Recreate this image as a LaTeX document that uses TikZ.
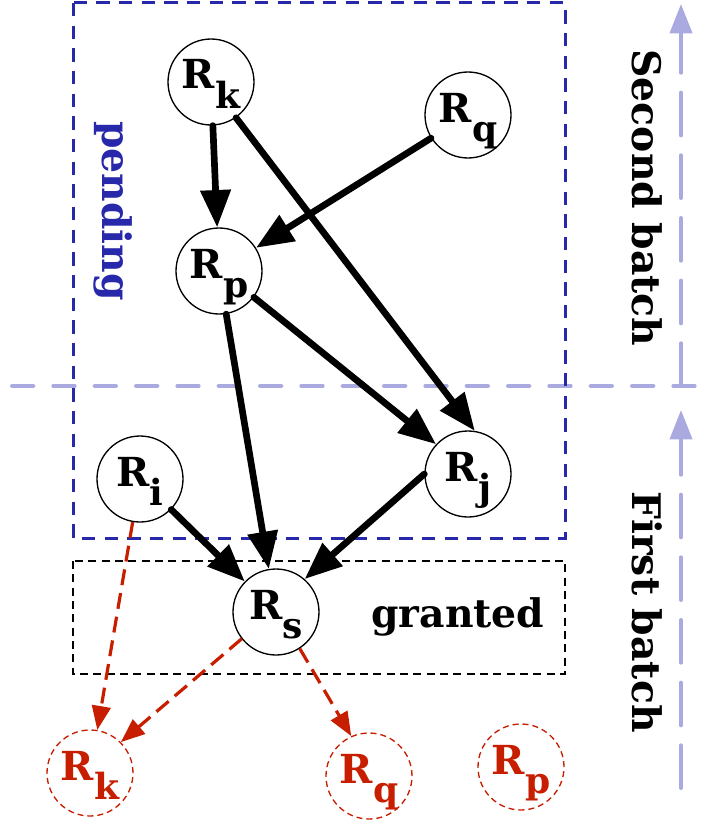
\documentclass[tikz,border=0pt]{standalone}
\usepackage{fontspec}
\setmainfont{DejaVu Serif}
\usetikzlibrary{arrows.meta}
\definecolor{dblue}{RGB}{40,40,170}
\definecolor{lblue}{RGB}{170,170,225}
\definecolor{dred}{RGB}{200,30,0}
\newcommand{\Rsub}[1]{\raisebox{-5.25pt}[0pt][0pt]{R}\raisebox{-20pt}[0pt][0pt]{\fontsize{27}{27}\selectfont #1}}
\tikzset{
  res/.style={circle, draw, fill=white, line width=1pt, minimum size=64.5pt, inner sep=0pt,
    font=\fontsize{30}{32}\selectfont\bfseries},
  ghost/.style={res, draw=dred, dash pattern=on 4.5pt off 3pt, text=dred},
  dep/.style={line width=5pt, line cap=round, -{Triangle[length=28pt,width=22pt]}},
  redarr/.style={dred, line width=2.4pt, dash pattern=on 12pt off 6pt, -{Triangle[length=18pt,width=14pt]}},
  lline/.style={lblue, line width=3pt, line cap=round},
  lbl/.style={font=\fontsize{29.5}{32}\selectfont\bfseries, inner sep=0pt},
}
\begin{document}
\begin{tikzpicture}[x=0.75pt,y=-0.75pt]
\useasboundingbox (0,0) rectangle (712,824);
% light batch separators
\draw[lline, dash pattern=on 16pt off 15pt] (12,386) -- (712,386);
\coordinate (a1s) at (681,386);
\coordinate (a1e) at (681,4);
\coordinate (a2s) at (681,788);
\coordinate (a2e) at (681,410);
\draw[lline, dash pattern=on 32pt off 15pt, -{Triangle[length=22pt,width=16.5pt]}] (a1s) -- (a1e);
\draw[lline, dash pattern=on 32pt off 15pt, -{Triangle[length=22pt,width=16.5pt]}] (a2s) -- (a2e);
% boxes
\draw[dblue, line width=2.25pt, dash pattern=on 10pt off 7pt] (73,3) rectangle (565,538);
\draw[line width=1pt, dash pattern=on 6pt off 4pt] (73,561) rectangle (565,674);
% labels
\node[lbl, text=dblue, rotate=-90] (pend) at (113,211) {pending};
\node[lbl] (grant) at (458,617) {granted};
\node[lbl, rotate=-90] (sec) at (647,198) {Second batch};
\node[lbl, rotate=-90] (fir) at (647,612) {First batch};
% nodes
\node[res] (Rk) at (211,82) {\Rsub{k}};
\node[res] (Rq) at (468,115) {\Rsub{q}};
\node[res] (Rp) at (219,271) {\Rsub{p}};
\node[res] (Ri) at (140,479) {\Rsub{i}};
\node[res] (Rj) at (468,474) {\Rsub{j}};
\node[res] (Rs) at (276,612) {\Rsub{s}};
\node[ghost] (xk) at (90,773) {\Rsub{k}};
\node[ghost] (xq) at (369,776) {\Rsub{q}};
\node[ghost] (xp) at (521,767) {\Rsub{p}};
% dependencies
\draw[dep] (Rk) -- (Rp);
\draw[dep] (Rk.-55) -- (Rj.81);
\draw[dep] (Rq) -- (Rp);
\draw[dep] (Rp.-37) -- (Rj.137);
\draw[dep] (Rp) -- (Rs);
\draw[dep] (Ri) -- (Rs);
\draw[dep] (Rj.180) -- (Rs.49);
\draw[redarr] (Ri) -- (xk);
\draw[redarr] (Rs.218) -- (xk.45);
\draw[redarr] (Rs.-57) -- (xq.114);
\end{tikzpicture}
\end{document}
